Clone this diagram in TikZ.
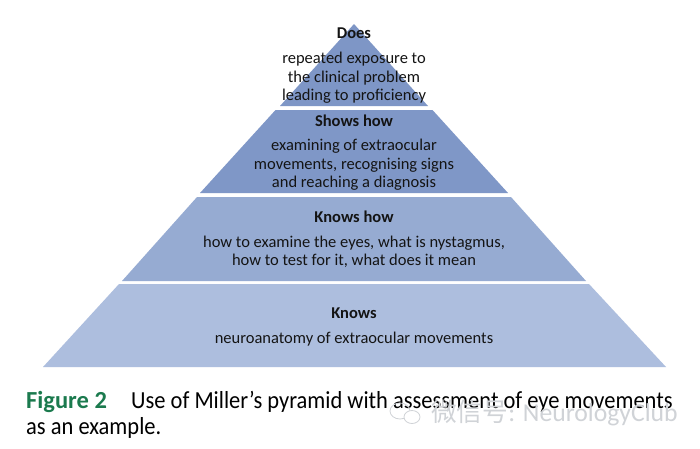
\documentclass[tikz,border=0pt]{standalone}
\usepackage{fontspec}
\setmainfont{Carlito}
\newfontfamily\capfont[FakeStretch=0.918]{Carlito}
\newfontfamily\cjk{Noto Sans CJK SC}
\definecolor{lay1}{HTML}{7E96C6}
\definecolor{lay2}{HTML}{7F97C7}
\definecolor{lay3}{HTML}{96ABD2}
\definecolor{lay4}{HTML}{ADBEDE}
\definecolor{figgreen}{HTML}{1B7A4E}
\definecolor{wm}{HTML}{D0D3D7}
\tikzset{
  layer/.style={draw=none},
  lab/.style={align=center,font=\fontsize{16.5}{18.5}\selectfont,text=black!92,inner sep=0pt},
  head/.style={lab,font=\fontsize{16.5}{18.5}\selectfont\bfseries},
  captext/.style={anchor=base west,inner sep=0pt,font=\capfont\fontsize{24.5}{27}\selectfont,text=black},
}
\begin{document}
\begin{tikzpicture}[x=1pt,y=-1pt]
\useasboundingbox (0,0) rectangle (700,448);
\fill[white] (0,0) rectangle (700,448);
\fill[lay1,layer] (354,24) -- (428,106) -- (280,106) -- cycle;
\fill[lay2,layer] (275.5,110) -- (432.5,110) -- (508,193) -- (200,193) -- cycle;
\fill[lay3,layer] (197,197) -- (511,197) -- (586,281) -- (122,281) -- cycle;
\fill[lay4,layer] (119,284) -- (589,284) -- (666,367) -- (43,367) -- cycle;
\node[head] (n1) at (354,33.5) {Does};
\node[lab] (t1) at (354,78) {repeated exposure to\\the clinical problem\\leading to proficiency};
\node[head] (n2) at (354,121) {Shows how};
\node[lab] (t2) at (354,165) {examining of extraocular\\movements, recognising signs\\and reaching a diagnosis};
\node[head] (n3) at (354,217) {Knows how};
\node[lab] (t3) at (354,252) {how to examine the eyes, what is nystagmus,\\how to test for it, what does it mean};
\node[head] (n4) at (354,313) {Knows};
\node[lab] (t4) at (354,339) {neuroanatomy of extraocular movements};
\node[captext,text=figgreen,font=\fontsize{24.5}{27}\selectfont\bfseries] (c1) at (26,408) {Figure 2};
\node[captext] (c2) at (131,408) {Use of Miller’s pyramid with assessment of eye movements};
\node[captext] (c3) at (26,434) {as an example.};
\draw[wm,line width=.8pt] (400,411) ellipse (10 and 8);
\draw[wm,line width=.8pt,fill=white] (412,417) ellipse (8 and 6.5);
\node[anchor=base west,inner sep=0pt,text=wm,font=\fontsize{25.7}{28}\selectfont] (w) at (431,421) {{\cjk 微信号}: NeurologyClub};
\end{tikzpicture}
\end{document}
